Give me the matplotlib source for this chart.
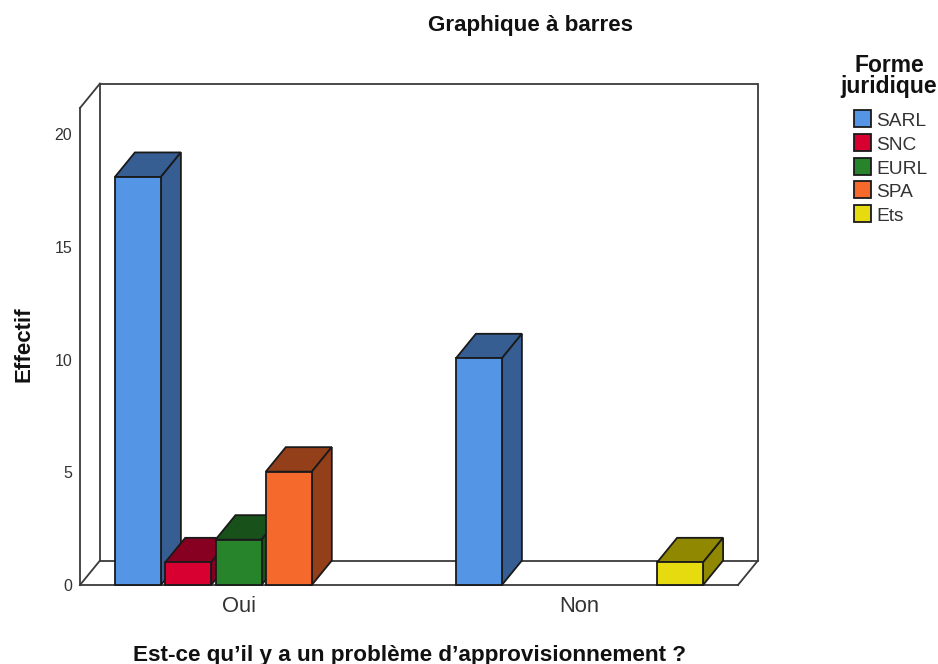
import matplotlib
matplotlib.use("Agg")
import matplotlib.pyplot as plt
from matplotlib.patches import Polygon, Rectangle
from matplotlib.lines import Line2D

plt.rcParams['font.family'] = ['Liberation Sans', 'DejaVu Sans']

categories = ["Oui", "Non"]
series_names = ["SARL", "SNC", "EURL", "SPA", "Ets"]
oui_values = [18, 1, 2, 5, 0]
non_values = [10, 0, 0, 0, 1]
y_ticks = [0, 5, 10, 15, 20]
front_colors = ["#5595E6", "#D70030", "#28842A", "#F5692C", "#E6DB0F"]
dark_colors = ["#365E92", "#880021", "#19511A", "#933F1A", "#8F8800"]
edge = "#1a1a1a"
wall = "#3a3a3a"

W, H = 938, 664
fig = plt.figure(figsize=(W / 100, H / 100), dpi=100, facecolor="white")
# axes covers the 3D box in pixels
L, R, T, B = 80, 758, 83.5, 585
ax = fig.add_axes([L / W, 1 - B / H, (R - L) / W, (B - T) / H])
px_per_cat = 341.0
px_per_val = 22.67
x0 = (L - 238.5) / px_per_cat
ax.set_xlim(x0, x0 + (R - L) / px_per_cat)
ax.set_ylim(0, (B - T) / px_per_val)
ax.axis("off")
xmin, xmax = ax.get_xlim()
ymax = ax.get_ylim()[1]
dx = 20 / px_per_cat
dy = 24.5 / px_per_val
xfront = xmax - dx
lw = 1.3

# frame of the box
ax.add_patch(Polygon([(xmin + dx, dy), (xmax, dy), (xmax, ymax), (xmin + dx, ymax)],
                     closed=True, fc="white", ec=wall, lw=lw, clip_on=False, zorder=1))
for xs, ys in [([xmin, xmin], [0, ymax - dy]),
               ([xmin, xmin + dx], [ymax - dy, ymax]),
               ([xmin, xmin + dx], [0, dy]),
               ([xmin, xfront], [0, 0]),
               ([xfront, xmax], [0, dy])]:
    ax.add_line(Line2D(xs, ys, color=wall, lw=lw, clip_on=False, zorder=1.5))

# bars
n = len(series_names)
step = 50.3 / px_per_cat
width = 46 / px_per_cat
z = 2
for c, vals in enumerate([oui_values, non_values]):
    for i, v in enumerate(vals):
        if v == 0:
            continue
        xc = c + (i - (n - 1) / 2) * step
        a, b = xc - width / 2, xc + width / 2
        ax.add_patch(Polygon([(a, v), (b, v), (b + dx, v + dy), (a + dx, v + dy)], closed=True,
                             fc=dark_colors[i], ec=edge, lw=lw, zorder=z, clip_on=False))
        ax.add_patch(Polygon([(b, 0), (b + dx, dy), (b + dx, v + dy), (b, v)], closed=True,
                             fc=dark_colors[i], ec=edge, lw=lw, zorder=z, clip_on=False))
        ax.add_patch(Rectangle((a, 0), width, v, fc=front_colors[i], ec=edge, lw=lw,
                               zorder=z, clip_on=False))
        z += 1

# tick labels
label_px_per_val = 22.55
for t in y_ticks:
    ax.text(xmin - 8 / px_per_cat, (t * label_px_per_val - 1.5) / px_per_val, str(t), ha="right", va="center",
            fontsize=11.5, color="#333333")
for c, name in enumerate(categories):
    ax.text(c, -22 / px_per_val, name, ha="center", va="center", fontsize=15.8, color="#333333")

# titles
fig.text(530.5 / W, 1 - 25 / H, "Graphique à barres", ha="center", va="center",
         fontsize=16.1, fontweight="bold", color="#111111")
fig.text(409 / W, 1 - 655 / H, "Est-ce qu’il y a un problème d’approvisionnement ?", ha="center", va="center",
         fontsize=16.2, fontweight="bold", color="#111111")
fig.text(24 / W, 1 - 344 / H, "Effectif", ha="center", va="center", rotation=90,
         fontsize=16, fontweight="bold", color="#111111")
fig.text(889 / W, 1 - 65 / H, "Forme", ha="center", va="center",
         fontsize=16.5, fontweight="bold", color="#111111")
fig.text(889 / W, 1 - 87 / H, "juridique", ha="center", va="center",
         fontsize=16.5, fontweight="bold", color="#111111")

# legend
leg_y = [118.5, 142.5, 166, 189.5, 213.5]
for name, col, y in zip(series_names, front_colors, leg_y):
    fig.add_artist(Rectangle((854 / W, 1 - (y + 8.5) / H), 17 / W, 17 / H, fc=col, ec=edge, lw=1.3,
                             transform=fig.transFigure))
    fig.text(876 / W, 1 - (y + 3) / H, name, ha="left", va="center", fontsize=13.8, color="#333333")

fig.savefig("out.png", dpi=100, facecolor="white")
